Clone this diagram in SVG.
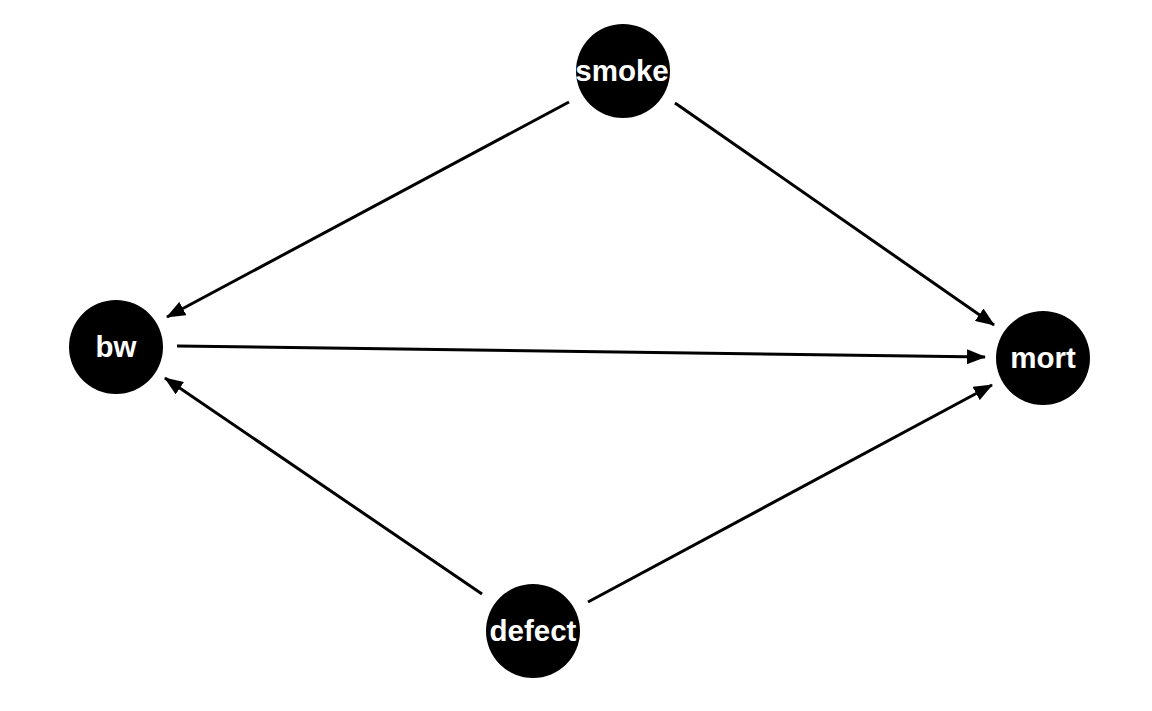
<svg xmlns="http://www.w3.org/2000/svg" width="1152" height="711" viewBox="0 0 1152 711">
<style>
.node circle{fill:#000}
.node text{fill:#fff;font-family:"Liberation Sans",Arial,sans-serif;font-weight:bold;font-size:29.5px;text-anchor:middle}
.edge{stroke:#000;stroke-width:3;fill:none;marker-end:url(#arr)}
</style>
<defs>
<marker id="arr" markerUnits="userSpaceOnUse" markerWidth="19" markerHeight="15" viewBox="0 0 19 15" refX="18" refY="7.5" orient="auto">
<path d="M0,0 L19,7.5 L0,15 Z" fill="#000"/>
</marker>
</defs>
<rect width="1152" height="711" fill="#fff"/>
<g id="edges">
<line class="edge" x1="569" y1="102" x2="167" y2="317"/>
<line class="edge" x1="675" y1="103" x2="994" y2="325"/>
<line class="edge" x1="177" y1="346" x2="985" y2="357"/>
<line class="edge" x1="482" y1="594" x2="165" y2="378"/>
<line class="edge" x1="588" y1="602" x2="992" y2="385"/>
</g>
<g id="smoke" class="node"><circle cx="623" cy="71" r="47"/><text x="622" y="81">smoke</text></g>
<g id="bw" class="node"><circle cx="116" cy="347" r="47"/><text x="116" y="357">bw</text></g>
<g id="mort" class="node"><circle cx="1043" cy="358" r="47"/><text x="1043" y="368">mort</text></g>
<g id="defect" class="node"><circle cx="533" cy="631" r="47"/><text x="533" y="641">defect</text></g>
</svg>
